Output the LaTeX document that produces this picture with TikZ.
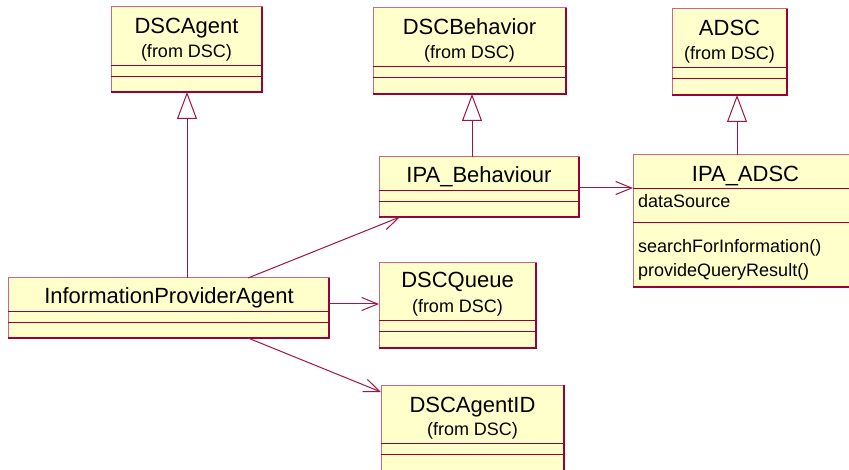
\documentclass[tikz,border=0pt]{standalone}
\usepackage{fontspec}
\setmainfont{Liberation Sans}
\usetikzlibrary{arrows.meta,calc}
\definecolor{boxfill}{RGB}{255,255,204}
\definecolor{boxdark}{RGB}{153,0,51}
\definecolor{boxlight}{RGB}{204,102,136}
\definecolor{linkcol}{RGB}{160,20,70}
\tikzset{
  umlbox/.style={draw=boxlight, fill=boxfill, line width=1pt, inner sep=0pt, outer sep=0pt, anchor=north west},
  sepline/.style={draw=boxdark, line width=1pt},
  darkedge/.style={draw=boxdark, line width=1.4pt},
  titletext/.style={font=\fontsize{22}{26}\selectfont, anchor=base, inner sep=0pt},
  subtext/.style={font=\fontsize{18}{22}\selectfont, anchor=base, inner sep=0pt},
  membertext/.style={font=\fontsize{18}{22}\selectfont, anchor=base west, inner sep=0pt},
  genlink/.style={draw=linkcol, line width=1pt, -{Triangle[open, length=27pt, width=20pt]}},
  assoclink/.style={draw=linkcol, line width=1pt, -{Straight Barb[length=16pt, width=13pt]}}
}
\newcommand{\UmlBoxDraw}[7]{%
  \pgfmathsetmacro{\ubW}{#4-#2}\pgfmathsetmacro{\ubH}{#5-#3}%
  \node[umlbox, minimum width=\ubW pt, minimum height=\ubH pt] (#1) at (#2,#3) {};
  \draw[darkedge] (#1.south west) -- (#1.south east) -- (#1.north east);
  \draw[sepline] ($(#1.north west)+(0,#6)$) -- ($(#1.north east)+(0,#6)$);
  \draw[sepline] ($(#1.north west)+(0,#7)$) -- ($(#1.north east)+(0,#7)$);
}
\begin{document}
\begin{tikzpicture}[x=1pt, y=-1pt]
\useasboundingbox (0,0) rectangle (849,470);
\fill[white] (0,0) rectangle (849,470);

\UmlBoxDraw{dscagent}{111}{7}{262}{92}{59}{70}
\UmlBoxDraw{dscbeh}{373}{8}{566}{94}{59}{70}
\UmlBoxDraw{adsc}{672}{9}{787}{95}{59}{70}
\UmlBoxDraw{ipabeh}{379}{157}{579}{217}{34}{45}
\UmlBoxDraw{ipaadsc}{633}{155}{858}{287}{34}{68}
\UmlBoxDraw{ipa}{8}{278}{329}{338}{34}{45}
\UmlBoxDraw{queue}{379}{263}{536}{348}{58}{69}
\UmlBoxDraw{agentid}{381}{385}{564}{476}{58}{69}

\node[titletext] (t-dscagent) at (186.5,34) {DSCAgent};
\node[subtext] (s-dscagent) at (186.5,58) {(from DSC)};
\node[titletext] (t-dscbeh) at (469.5,35) {DSCBehavior};
\node[subtext] (s-dscbeh) at (469.5,59) {(from DSC)};
\node[titletext] (t-adsc) at (729.5,36) {ADSC};
\node[subtext] (s-adsc) at (729.5,60) {(from DSC)};
\node[titletext] (t-ipabeh) at (479,183) {IPA\_Behaviour};
\node[titletext] (t-ipaadsc) at (745.5,182) {IPA\_ADSC};
\node[membertext] (m-ds) at (638,208) {dataSource};
\node[membertext] (m-search) at (638,253) {searchForInformation()};
\node[membertext] (m-provide) at (638,277) {provideQueryResult()};
\node[titletext] (t-ipa) at (169,304) {InformationProviderAgent};
\node[titletext] (t-queue) at (457.5,288) {DSCQueue};
\node[subtext] (s-queue) at (457.5,313) {(from DSC)};
\node[titletext] (t-agentid) at (472.5,412) {DSCAgentID};
\node[subtext] (s-agentid) at (472.5,435) {(from DSC)};

% generalizations
\coordinate (dscagentfoot) at ($(dscagent.south)+(0.5,0)$);
\coordinate (dscbehfoot) at ($(dscbeh.south)+(2.5,0)$);
\coordinate (adscfoot) at ($(adsc.south)+(7.5,0)$);
\draw[genlink] (ipa.north -| dscagentfoot) -- (dscagentfoot);
\draw[genlink] (ipabeh.north -| dscbehfoot) -- (dscbehfoot);
\draw[genlink] (ipaadsc.north -| adscfoot) -- (adscfoot);

% associations
\coordinate (behout) at ($(ipabeh.north east)+(0,31)$);
\draw[assoclink] (behout) -- (ipaadsc.west |- behout);
\draw[assoclink] ($(ipa.north west)+(240,0)$) -- ($(ipabeh.south west)+(21,0)$);
\coordinate (queueout) at ($(ipa.north east)+(0,26)$);
\draw[assoclink] (queueout) -- (queue.west |- queueout);
\draw[assoclink] ($(ipa.south west)+(240,0)$) -- ($(agentid.north west)+(0,7)$);
\end{tikzpicture}
\end{document}
